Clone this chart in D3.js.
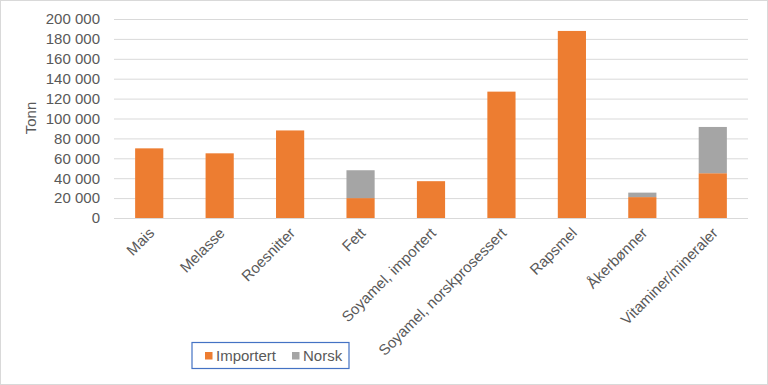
<!DOCTYPE html>
<html>
<head>
<meta charset="utf-8">
<script src="https://cdn.jsdelivr.net/npm/d3@7"></script>
<style>
  body { margin: 0; background: #fff; }
  svg { display: block; font-family: "Liberation Sans", Arial, sans-serif; }
</style>
</head>
<body>
<svg id="chart" width="768" height="385"></svg>
<script>
const categories = ['Mais', 'Melasse', 'Roesnitter', 'Fett', 'Soyamel, importert',
  'Soyamel, norskprosessert', 'Rapsmel', 'Åkerbønner', 'Vitaminer/mineraler']
const importert = [70000, 65000, 88000, 20000, 37000, 127000, 188000, 21000, 45000]
const norsk = [0, 0, 0, 28000, 0, 0, 0, 4500, 46500]
const seriesNames = ['Importert', 'Norsk']
const yTicks = [0, 20000, 40000, 60000, 80000, 100000, 120000, 140000, 160000, 180000, 200000]

const colors = { Importert: '#ED7D31', Norsk: '#A5A5A5' }
const textColor = '#595959'
const fontSize = '15px'

const svg = d3.select('#chart')

// outer frame
svg.append('rect')
    .attr('x', 0.5).attr('y', 0.5)
    .attr('width', 767).attr('height', 384)
    .attr('fill', '#fff')
    .attr('stroke', '#d9d9d9')

const plot = { left: 114, right: 748, top: 19, bottom: 218 }

const x = d3.scaleBand()
    .domain(categories)
    .range([plot.left, plot.right])
    .paddingInner(0.6)
    .paddingOuter(0.3)

const y = d3.scaleLinear()
    .domain([0, 200000])
    .range([plot.bottom, plot.top])

const fmt = v => d3.format(',')(v).replace(/,/g, ' ')

// gridlines + y labels
const yAxis = svg.append('g')
    .attr('transform', `translate(${plot.left},0)`)
    .call(d3.axisLeft(y).tickValues(yTicks).tickSize(-(plot.right - plot.left)).tickPadding(14).tickFormat(fmt))
yAxis.select('.domain').remove()
yAxis.selectAll('line').attr('stroke', '#d9d9d9').attr('stroke-width', 1)
yAxis.selectAll('text')
    .attr('fill', textColor)
    .style('font-size', fontSize)

// stacked bars
const rows = categories.map((c, i) => ({ cat: c, Importert: importert[i], Norsk: norsk[i] }))
const stacked = d3.stack().keys(seriesNames)(rows)

svg.append('g')
  .selectAll('g')
  .data(stacked)
  .join('g')
    .attr('fill', d => colors[d.key])
  .selectAll('rect')
  .data(d => d.filter(p => p[1] > p[0]))
  .join('rect')
    .attr('x', d => x(d.data.cat))
    .attr('y', d => y(d[1]))
    .attr('width', x.bandwidth())
    .attr('height', d => y(d[0]) - y(d[1]))

// base line
svg.append('line')
    .attr('x1', plot.left).attr('x2', plot.right)
    .attr('y1', plot.bottom + 0.5).attr('y2', plot.bottom + 0.5)
    .attr('stroke', '#d9d9d9')

// x labels rotated
const xAxis = svg.append('g')
    .attr('transform', `translate(0,${plot.bottom})`)
    .call(d3.axisBottom(x).tickSize(0).tickPadding(0))
xAxis.select('.domain').remove()
xAxis.selectAll('text')
    .attr('fill', textColor)
    .style('font-size', fontSize)
    .attr('text-anchor', 'end')
    .attr('dy', null)
    .attr('transform', 'translate(6,16) rotate(-45)')

// y title
svg.append('text')
    .attr('transform', 'translate(36,118) rotate(-90)')
    .attr('text-anchor', 'middle')
    .attr('fill', textColor)
    .style('font-size', fontSize)
    .text('Tonn')

// legend
const legend = svg.append('g')
legend.append('rect')
    .attr('x', 192).attr('y', 342.5)
    .attr('width', 157).attr('height', 26)
    .attr('fill', '#fff')
    .attr('stroke', '#4472C4')
    .attr('stroke-width', 1.2)

const legendX = [205, 292]
seriesNames.forEach((name, i) => {
  legend.append('rect')
      .attr('x', legendX[i]).attr('y', 352)
      .attr('width', 7.5).attr('height', 7.5)
      .attr('fill', colors[name])
  legend.append('text')
      .attr('x', legendX[i] + 11).attr('y', 361)
      .attr('fill', textColor)
      .style('font-size', fontSize)
      .text(name)
})
</script>
</body>
</html>
